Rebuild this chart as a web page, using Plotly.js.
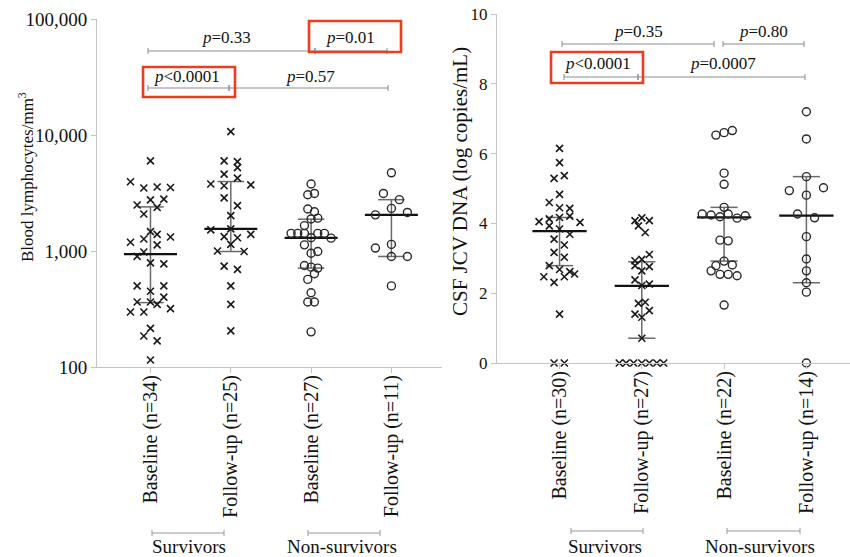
<!DOCTYPE html>
<html>
<head>
<meta charset="utf-8">
<script src="https://cdn.plot.ly/plotly-3.0.1.min.js"></script>
<style>html,body{margin:0;padding:0;background:#fff}#chart{width:850px;height:557px}</style>
</head>
<body>
<div id="chart"></div>
<script>
// ---------- DATA ----------
const categoriesLeft = ["Baseline (n=34)", "Follow-up (n=25)", "Baseline (n=27)", "Follow-up (n=11)"];
const categoriesRight = ["Baseline (n=30)", "Follow-up (n=27)", "Baseline (n=22)", "Follow-up (n=14)"];
const groupLabels = ["Survivors", "Non-survivors"];

// Blood lymphocytes/mm3
const lymSurvBase = [5990,3950,3490,3560,3530,2760,2800,2490,2380,2085,1470,1390,1320,1190,1270,1130,980,900,790,775,500,500,450,400,363,363,347,298,298,319,215,185,168,115];
const lymSurvBaseJit = [0,-3,-1,1,3,0,2,-2,1,-1,0,1,3,-3,-1,1,-1,-2,0,2,-2,2,0,2,-2,0,1,-3,-1,3,0,-1,1,0];
const lymSurvFu = [10700,5990,5900,5240,4600,4250,3650,3720,3780,2870,2460,2020,1550,1520,1330,1300,1390,1140,990,1000,740,695,500,347,205];
const lymSurvFuJit = [0,-1,1,1,-1,1,-1,3,-3,-1,1,0,0,-3,-1,1,3,0,2,-2,-1,1,0,0,0];
const lymNonBase = [3780,3055,3135,2300,2180,1890,1920,1655,1420,1420,1420,1420,1420,1300,1290,1130,957,990,750,726,712,637,569,437,363,363,201];
const lymNonBaseJit = [0,-0.5,0.5,-0.5,0.5,0,1,-1,-3,-2,-1,1,2,0,3,-1,0,1,-1,0,1,0.5,-0.5,0,-0.5,0.5,0];
const lymNonFu = [4720,3135,2770,2330,2050,2150,1140,1060,897,897,500];
const lymNonFuJit = [0,-1.2,1.2,0,-2.4,2.4,0,-2.4,0,2.4,0];
const lymMedian = [940,1550,1300,2050];
const lymQ1 = [359,990,712,897];
const lymQ3 = [2400,3970,1880,2770];

// CSF JCV DNA (log copies/mL)
const jcvSurvBase = [6.15,5.74,5.29,5.37,4.83,4.60,4.45,4.43,4.17,4.21,4.05,4.13,3.93,4.03,3.84,3.69,3.55,3.38,3.17,3.03,2.79,2.68,2.62,2.55,2.47,2.47,2.31,1.40,0,0];
const jcvSurvBaseJit = [0,0,-0.8,0.7,0,-1.5,0,1.5,0,1.5,-3,-1.5,-1.5,3,0,1.5,-0.8,0.7,-0.8,0.7,-1.5,0,1.5,2.2,0.7,-2.3,-0.8,0,-0.8,0.7];
const jcvSurvFu = [4.08,4.16,4.08,3.93,3.74,3.11,2.93,2.97,2.79,2.64,2.76,2.38,2.22,2.26,1.71,1.74,1.40,1.31,1.50,0.71,0,0,0,0,0,0,0];
const jcvSurvFuJit = [-1,0,1.1,-0.5,0.5,1.1,-1,0,-1,0,1.1,-1,0,1.1,-0.5,0.5,-1,0,1.1,0,-3.3,-2.3,-1.2,0,1.1,2.2,3.2];
const jcvNonBase = [6.53,6.60,6.66,5.44,5.12,4.46,4.27,4.24,4.19,4.27,4.15,4.22,3.52,3.50,2.92,2.79,2.81,2.64,2.54,2.54,2.50,1.66];
const jcvNonBaseJit = [-1.2,0,1.2,0,0,0,-3.2,-1.9,-0.6,0.6,1.9,3.1,-0.6,0.6,0,-1.2,1.2,-1.9,-0.6,0.6,1.9,0];
const jcvNonFu = [7.20,6.42,5.34,4.94,5.02,4.81,4.27,4.16,3.62,2.98,2.64,2.30,2.03,0];
const jcvNonFuJit = [0,0,0,-2.5,2.5,0,-1.3,1.2,0,0,0,0,0,0];
const jcvMedian = [3.78,2.21,4.17,4.22];
const jcvQ1 = [2.79,0.71,2.92,2.30];
const jcvQ3 = [4.17,2.90,4.46,5.34];

const pLeft = ["<i>p</i>=0.33", "<i>p</i>=0.01", "<i>p</i>&lt;0.0001", "<i>p</i>=0.57"];
const pRight = ["<i>p</i>=0.35", "<i>p</i>=0.80", "<i>p</i>&lt;0.0001", "<i>p</i>=0.0007"];

// ---------- BUILD ----------
const W = 850, H = 557;
const FONT = "Liberation Serif";
const JSTEP = 0.083; // jitter step in category units
const px = v => v / W;
const py = v => 1 - v / H;

const traces = [];
function addStats(xa, ya, med, q1, q3) {
  for (let i = 0; i < med.length; i++) {
    traces.push({type: "scatter", mode: "lines", xaxis: xa, yaxis: ya, hoverinfo: "skip", showlegend: false,
      x: [i - 0.165, i + 0.165, null, i, i, null, i - 0.165, i + 0.165],
      y: [q3[i], q3[i], null, q3[i], q1[i], null, q1[i], q1[i]],
      line: {color: "#6a6a6a", width: 1.5}});
    traces.push({type: "scatter", mode: "lines", xaxis: xa, yaxis: ya, hoverinfo: "skip", showlegend: false,
      x: [i - 0.33, i + 0.33], y: [med[i], med[i]],
      line: {color: "#111", width: 2.2}});
  }
}
function addPoints(xa, ya, idx, vals, jit, symbol) {
  traces.push({type: "scatter", mode: "markers", xaxis: xa, yaxis: ya, showlegend: false, cliponaxis: false,
    x: vals.map((v, k) => idx + jit[k] * JSTEP), y: vals,
    marker: symbol === "x"
      ? {symbol: "x-thin-open", size: 7, color: "#1a1a1a", line: {color: "#1a1a1a", width: 1.6}}
      : {symbol: "circle-open", size: 8, color: "#2a2a2a", line: {color: "#2a2a2a", width: 1.4}}});
}
addStats("x", "y", lymMedian, lymQ1, lymQ3);
addStats("x2", "y2", jcvMedian, jcvQ1, jcvQ3);
addPoints("x", "y", 0, lymSurvBase, lymSurvBaseJit, "x");
addPoints("x", "y", 1, lymSurvFu, lymSurvFuJit, "x");
addPoints("x", "y", 2, lymNonBase, lymNonBaseJit, "o");
addPoints("x", "y", 3, lymNonFu, lymNonFuJit, "o");
addPoints("x2", "y2", 0, jcvSurvBase, jcvSurvBaseJit, "x");
addPoints("x2", "y2", 1, jcvSurvFu, jcvSurvFuJit, "x");
addPoints("x2", "y2", 2, jcvNonBase, jcvNonBaseJit, "o");
addPoints("x2", "y2", 3, jcvNonFu, jcvNonFuJit, "o");

const shapes = [];
const annotations = [];
function bracket(x0, x1, y, color, w) {
  shapes.push({type: "line", xref: "paper", yref: "paper", x0: px(x0), x1: px(x1), y0: py(y), y1: py(y), line: {color: color, width: w}});
  shapes.push({type: "line", xref: "paper", yref: "paper", x0: px(x0), x1: px(x0), y0: py(y - 3), y1: py(y + 3), line: {color: color, width: w}});
  shapes.push({type: "line", xref: "paper", yref: "paper", x0: px(x1), x1: px(x1), y0: py(y - 3), y1: py(y + 3), line: {color: color, width: w}});
}
function label(text, x, y, size, angle) {
  annotations.push({xref: "paper", yref: "paper", x: px(x), y: py(y), text: text, showarrow: false,
    xanchor: "center", yanchor: "middle", textangle: angle || 0, font: {family: FONT, size: size, color: "#111"}});
}
function redBox(x0, y0, x1, y1) {
  shapes.push({type: "rect", xref: "paper", yref: "paper", x0: px(x0), x1: px(x1), y0: py(y0), y1: py(y1), line: {color: "#f03c1e", width: 2.6}});
}
// Left brackets
bracket(148, 315, 51, "#8c8c8c", 1);
bracket(315, 387, 51, "#8c8c8c", 1);
bracket(148, 229, 88, "#8c8c8c", 1);
bracket(229, 388, 88, "#8c8c8c", 1);
label(pLeft[0], 227, 38, 17); label(pLeft[1], 350, 38, 17);
label(pLeft[2], 187, 76, 17); label(pLeft[3], 310, 76, 17);
redBox(309, 21, 401, 52); redBox(143, 67, 235, 97);
// Right brackets
bracket(562, 714, 44, "#8c8c8c", 1);
bracket(723, 804, 44, "#8c8c8c", 1);
bracket(564, 638, 77, "#8c8c8c", 1);
bracket(638, 805, 77, "#8c8c8c", 1);
label(pRight[0], 638, 32, 17); label(pRight[1], 763, 32, 17);
label(pRight[2], 598, 63, 17); label(pRight[3], 723, 63, 17);
redBox(551, 52, 643, 83);
// Group labels
bracket(152, 224, 533, "#9a9a9a", 1); bracket(308, 380, 533, "#9a9a9a", 1);
bracket(571, 643, 531, "#9a9a9a", 1); bracket(727, 800, 531, "#9a9a9a", 1);
label(groupLabels[0], 189, 546, 19); label(groupLabels[1], 342, 546, 19);
label(groupLabels[0], 605, 546, 19); label(groupLabels[1], 760, 546, 19);
// Axis titles
label("Blood lymphocytes/mm<sup>3</sup>", 26, 177, 17, -90);
label("CSF JCV DNA (log copies/mL)", 460, 181, 21, -90);

const axisCommon = {showgrid: false, zeroline: false, showline: true, linecolor: "#c4c4c4", linewidth: 1,
  ticks: "outside", tickcolor: "#c4c4c4", ticklen: 5, fixedrange: true};

const layout = {
  width: W, height: H, margin: {l: 0, r: 0, t: 0, b: 0},
  paper_bgcolor: "#fff", plot_bgcolor: "#fff", showlegend: false,
  font: {family: FONT, color: "#111"},
  xaxis: Object.assign({}, axisCommon, {domain: [px(97), px(442)], range: [-0.666, 3.63], anchor: "y",
    tickmode: "array", tickvals: [0, 1, 2, 3], ticktext: categoriesLeft, tickangle: -90, ticklabelstandoff: -6,
    tickfont: {family: FONT, size: 20, color: "#111"}}),
  yaxis: Object.assign({}, axisCommon, {domain: [py(367), py(19)], type: "log", range: [2, 5], anchor: "x",
    tickmode: "array", tickvals: [100, 1000, 10000, 100000], ticktext: ["100", "1,000", "10,000", "100,000"],
    tickfont: {family: FONT, size: 19, color: "#111"}}),
  xaxis2: Object.assign({}, axisCommon, {domain: [px(497), 1], range: [-0.76, 3.53], anchor: "y2",
    tickmode: "array", tickvals: [0, 1, 2, 3], ticktext: categoriesRight, tickangle: -90, ticklabelstandoff: -6,
    tickfont: {family: FONT, size: 20, color: "#111"}}),
  yaxis2: Object.assign({}, axisCommon, {domain: [py(363), py(14)], range: [0, 10], anchor: "x2",
    tickmode: "array", tickvals: [0, 2, 4, 6, 8, 10], ticktext: ["0", "2", "4", "6", "8", "10"],
    tickfont: {family: FONT, size: 17, color: "#111"}}),
  shapes: shapes, annotations: annotations
};
Plotly.newPlot("chart", traces, layout, {displayModeBar: false, staticPlot: true});
</script>
</body>
</html>
